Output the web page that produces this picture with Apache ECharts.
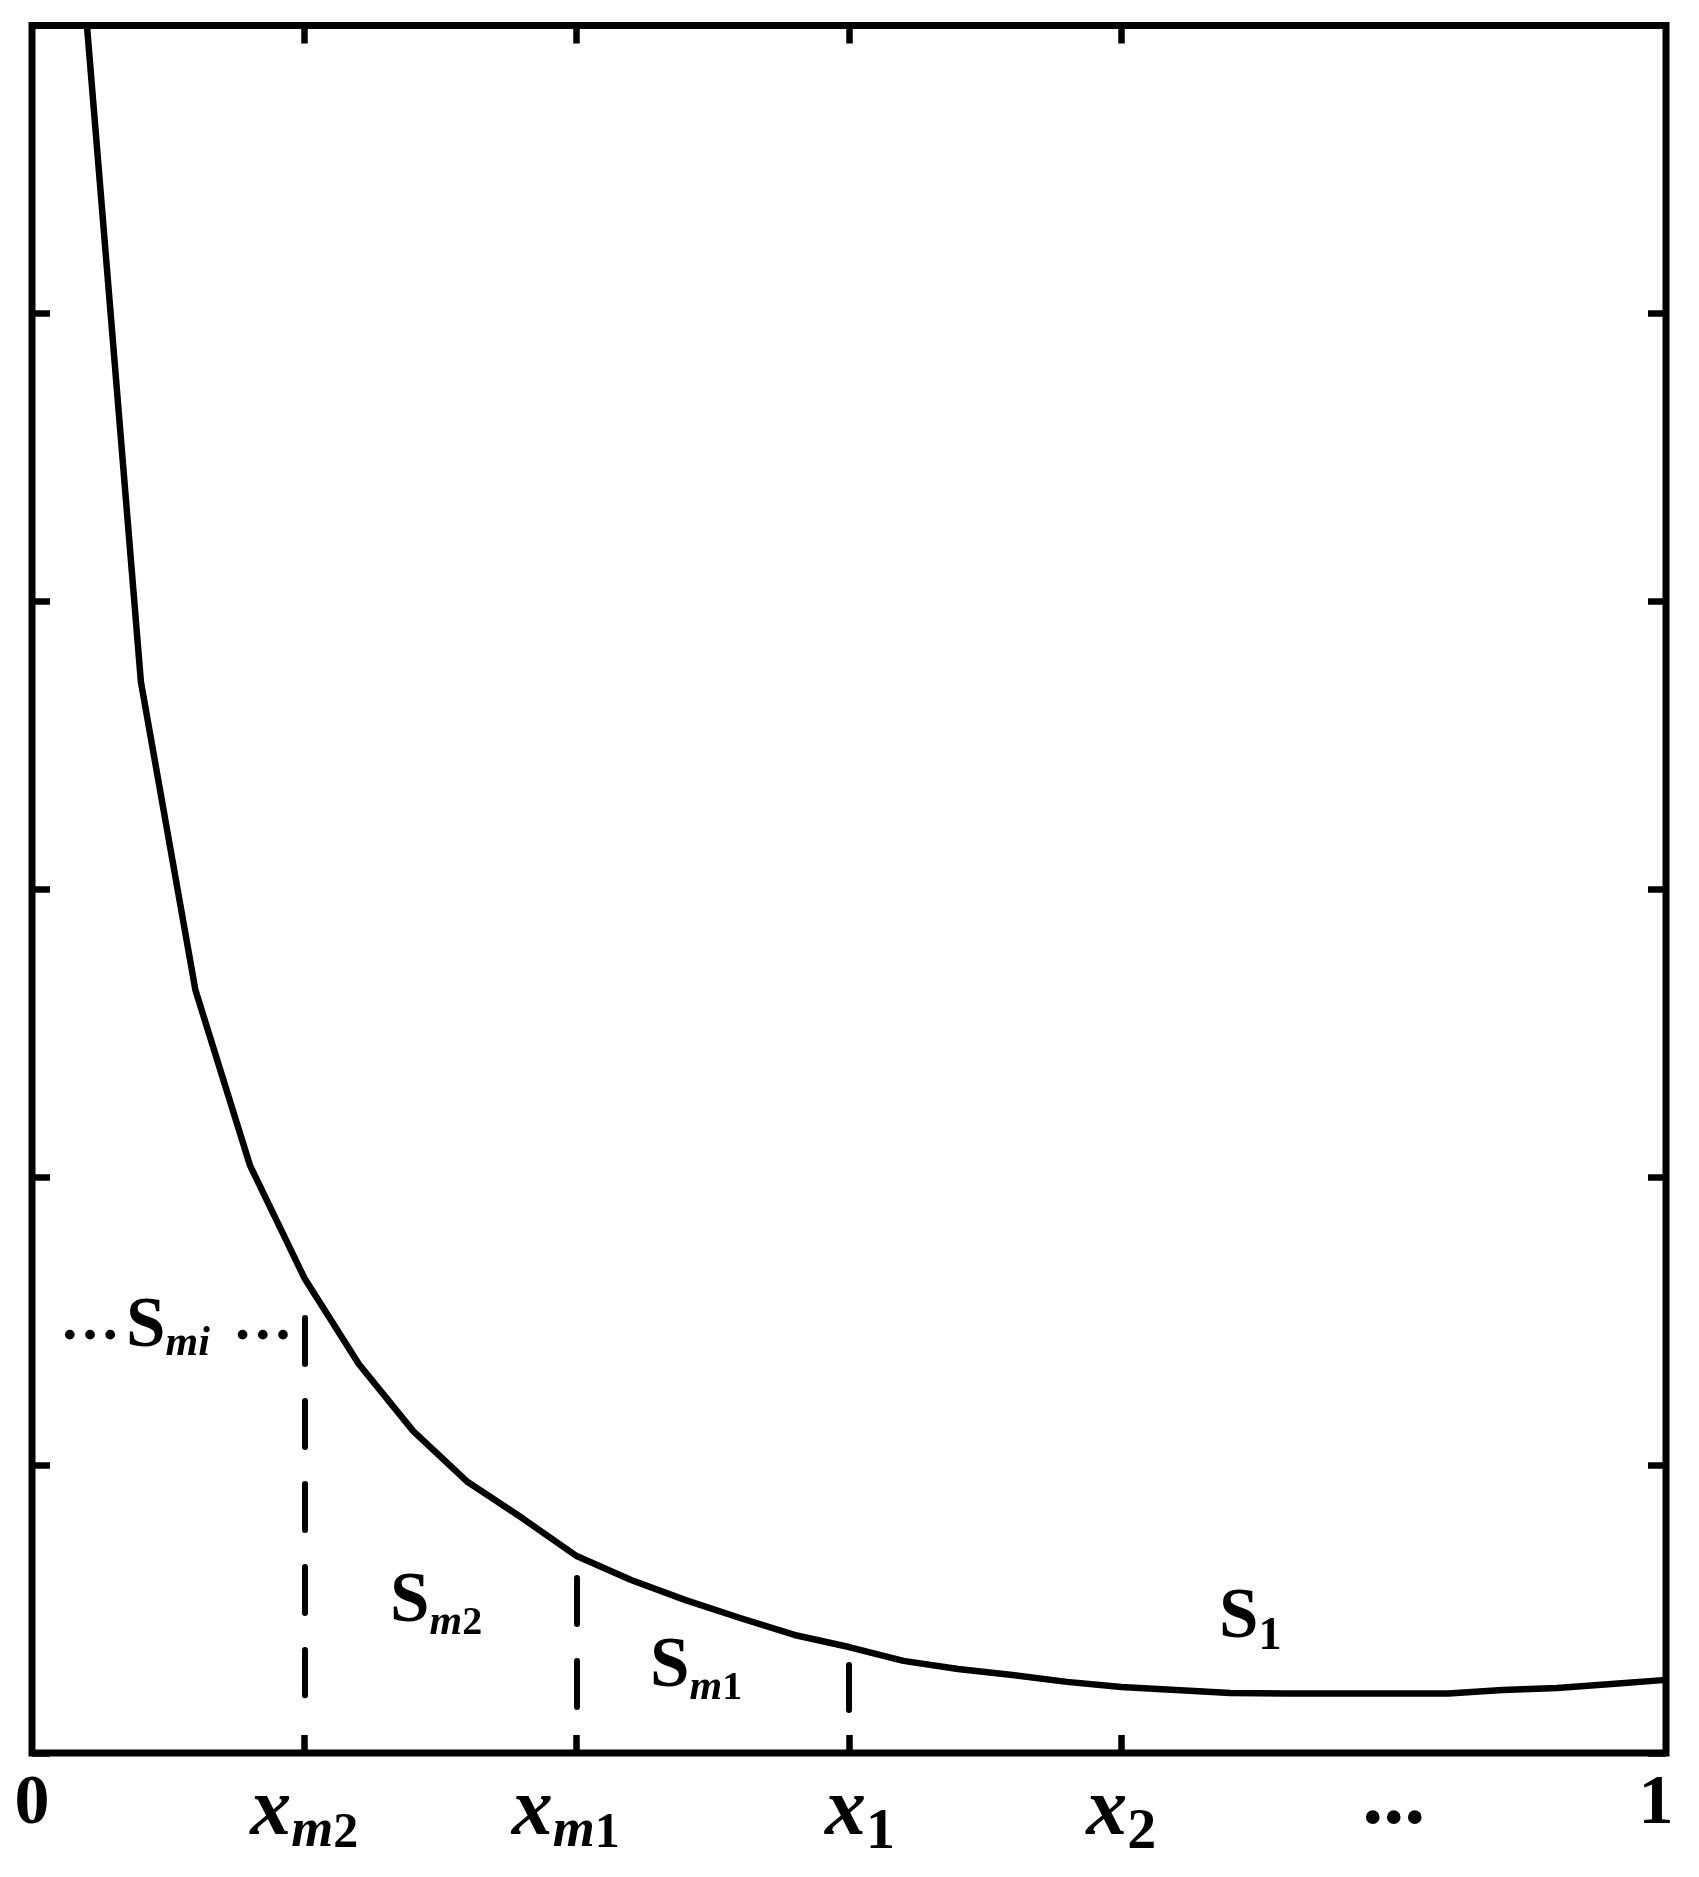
<!DOCTYPE html>
<html><head><meta charset="utf-8">
<script src="https://cdn.jsdelivr.net/npm/echarts@6/dist/echarts.min.js"></script>
<style>html,body{margin:0;padding:0;background:#fff}#c{width:1699px;height:1877px}</style>
</head><body><div id="c"></div>
<script>
// x positions are in steps of 1/30 of the unit interval
const xSteps = [1,2,3,4,5,6,7,8,9,10,11,12,13,14,15,16,17,18,19,20,21,22,23,24,25,26,27,28,29,30];
const curveValues = [6.02,3.72,2.65,2.042,1.65,1.351,1.118,0.941,0.816,0.684,0.601,0.531,0.469,0.410,0.368,0.320,0.292,0.271,0.247,0.229,0.219,0.208,0.207,0.207,0.207,0.207,0.219,0.226,0.240,0.254];
const tickValues = [0,5,10,15,20,25,30];
const tickLabels = ['{n|0}','{x|x}{sm|m}{sd|2}','{x|x}{sm|m}{sdL|1}','{xR|x}{sb|1}','{x|x}{sb|2}','{dots|...}','{nL|1}'];
const innerTicks = [5,10,15,20];
const dashX = [5,10,15];
const dashTop = [1.511,0.608,0.306];
const dashBottom = [0.201,0.160,0.149];
const noteX = [0.514,6.573,11.346,21.793];
const noteY = [1.476,0.521,0.295,0.465];
const noteText = ['{d1|\u2026}{S|S}{mi|mi}{d2|\u2026}','{S|S}{m|m}{d|2}','{S|S}{m|m}{d|1}','{S|S}{one|1}'];

const F = '"Liberation Serif", "Times New Roman", serif';
const K = '#000';
function st(size, italic, pad){
  const o = {fontFamily:F, fontWeight:'bold', fontSize:size, lineHeight:100, color:K, textBorderWidth:0, opacity:1};
  if (italic) o.fontStyle = 'italic';
  if (pad) o.padding = pad;
  return o;
}
const chart = echarts.init(document.getElementById('c'), null, {renderer:'canvas'});
function ticks(custom){
  const t = {show:true, inside:true, length:18, lineStyle:{color:K, width:6.5}};
  if (custom) t.customValues = custom;
  return t;
}
const noLine = {show:false, onZero:false};
chart.setOption({
  animation:false,
  backgroundColor:'#fff',
  textStyle:{color:K},
  grid:{left:32, top:25.5, right:33, bottom:124, show:true, borderColor:K, borderWidth:7, backgroundColor:'transparent'},
  xAxis:[{
    type:'value', min:0, max:30, position:'bottom',
    axisLine:noLine, splitLine:{show:false},
    axisTick:ticks(innerTicks),
    axisLabel:{
      show:true, customValues:tickValues, margin:10, color:K,
      formatter:function(v){ const i = tickValues.indexOf(v); return i>=0 ? tickLabels[i] : ''; },
      rich:{
        n:st(70,false,[0,0,16,0]),
        nL:st(70,false,[0,20,16,0]),
        x:st(82,true),
        xR:st(82,true,[0,0,0,22]),
        sm:st(54,true,[39,0,0,0]),
        sd:st(50,false,[42,0,0,0]),
        sdL:st(50,false,[42,22,0,0]),
        sb:st(58,false,[40,0,0,0]),
        dots:st(84,false,[0,0,23,0])
      }
    }
  },{
    type:'value', min:0, max:30, position:'top',
    axisLine:noLine, splitLine:{show:false}, axisLabel:{show:false},
    axisTick:ticks(innerTicks)
  }],
  yAxis:[{
    type:'value', min:0, max:6, interval:1, position:'left',
    axisLine:noLine, splitLine:{show:false}, axisLabel:{show:false}, axisTick:ticks()
  },{
    type:'value', min:0, max:6, interval:1, position:'right',
    axisLine:noLine, splitLine:{show:false}, axisLabel:{show:false}, axisTick:ticks()
  }],
  series:[{
    type:'line', xAxisIndex:0, yAxisIndex:0,
    data:xSteps.map((x,i)=>[x, curveValues[i]]),
    showSymbol:false, smooth:false, clip:true,
    lineStyle:{color:K, width:6.5, join:'round'},
    markLine:{
      silent:true, symbol:['none','none'], label:{show:false},
      lineStyle:{color:K, width:6, type:[46,37], cap:'round'},
      data:dashX.map((x,i)=>[{coord:[x, dashTop[i]]},{coord:[x, dashBottom[i]]}])
    }
  },{
    type:'scatter', xAxisIndex:0, yAxisIndex:0, symbolSize:0, silent:true,
    itemStyle:{color:K, opacity:1},
    data:noteX.map((x,i)=>[x, noteY[i]]),
    label:{
      show:true, position:[0,0], align:'left', verticalAlign:'middle', color:K, opacity:1,
      textBorderWidth:0, textBorderColor:'transparent',
      formatter:function(p){ return noteText[p.dataIndex]; },
      rich:{
        S:st(71,false),
        d1:st(60,false,[0,6,8.5,0]),
        d2:st(60,false,[0,0,8.5,23]),
        mi:st(42,true,[32,0,0,0]),
        m:st(42,true,[40,0,0,0]),
        d:st(40,false,[41,0,0,0]),
        one:st(46,false,[35,0,0,0])
      }
    }
  }]
});
</script></body></html>
